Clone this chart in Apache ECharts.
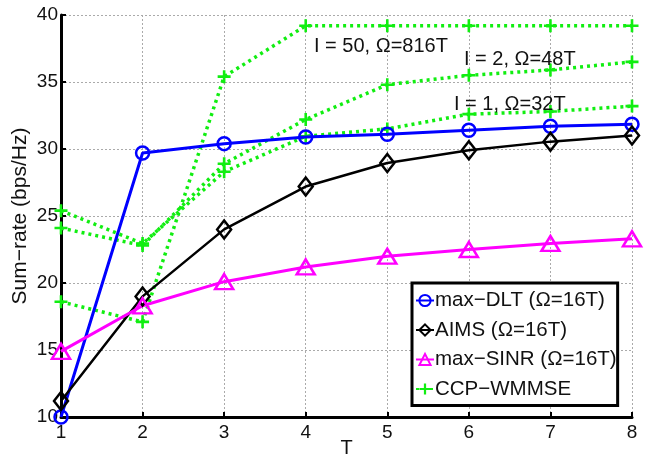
<!DOCTYPE html>
<html>
<head>
<meta charset="utf-8">
<script src="https://cdn.jsdelivr.net/npm/echarts@6/dist/echarts.min.js"></script>
<style>
  html, body { margin: 0; padding: 0; background: #fff; }
  #main { width: 651px; height: 457px; }
</style>
</head>
<body>
<div id="main"></div>
<script>
var T = [1, 2, 3, 4, 5, 6, 7, 8];
var yTicks = [10, 15, 20, 25, 30, 35, 40];

var maxDLT = [10.0, 29.7, 30.4, 30.9, 31.1, 31.4, 31.7, 31.85];
var aims = [11.2, 19.0, 24.0, 27.2, 28.95, 29.9, 30.55, 31.0];
var maxSINR = [14.9, 18.3, 20.1, 21.2, 22.0, 22.5, 22.95, 23.3];
var ccpI50 = [18.6, 17.1, 35.4, 39.2, 39.2, 39.2, 39.2, 39.2];
var ccpI2 = [24.1, 22.8, 28.9, 32.2, 34.8, 35.5, 35.9, 36.5];
var ccpI1 = [25.4, 22.95, 28.3, 30.95, 31.5, 32.6, 32.8, 33.2];

var legendNames = ['max−DLT (Ω=16T)', 'AIMS (Ω=16T)', 'max−SINR (Ω=16T)', 'CCP−WMMSE'];

var notes = [
  { text: 'I = 50, Ω=816T', x: 314, y: 47 },
  { text: 'I = 2, Ω=48T', x: 464, y: 60 },
  { text: 'I = 1, Ω=32T', x: 454, y: 105 }
];

var FONT = 'Liberation Sans, Arial, Helvetica, sans-serif';
var plus = 'path://M4,0 H6 V4 H10 V6 H6 V10 H4 V6 H0 V4 H4 Z';

function pairs(vals) {
  return vals.map(function (v, i) { return [T[i], v]; });
}

function green(vals) {
  return {
    name: legendNames[3],
    type: 'line',
    data: pairs(vals),
    symbol: plus,
    symbolSize: 13,
    itemStyle: { color: '#11ee11' },
    lineStyle: { color: '#11ee11', width: 3.5, type: [3, 4] },
    z: 1
  };
}

var chart = echarts.init(document.getElementById('main'));
chart.setOption({
  animation: false,
  backgroundColor: '#fff',
  textStyle: { fontFamily: FONT },
  grid: { left: 61, right: 19, top: 15, bottom: 40, containLabel: false, outerBoundsMode: 'none' },
  legend: {
    orient: 'vertical',
    left: 412,
    top: 283,
    itemWidth: 18,
    itemHeight: 14,
    itemGap: 8.5,
    padding: [7, 1, 6, 3],
    borderColor: '#000',
    borderWidth: 3,
    backgroundColor: '#fff',
    textStyle: { fontSize: 20.5, lineHeight: 20, color: '#111', fontFamily: FONT, padding: [0, 0, 0, -4] },
    data: legendNames
  },
  xAxis: {
    type: 'value',
    min: 1,
    max: 8,
    interval: 1,
    name: 'T',
    nameLocation: 'middle',
    nameGap: 21,
    nameMoveOverlap: false,
    nameTextStyle: { fontSize: 20, color: '#111' },
    axisLine: { lineStyle: { color: '#000', width: 3 } },
    axisTick: { inside: true, length: 5, lineStyle: { color: '#000', width: 2 } },
    axisLabel: { fontSize: 19, color: '#111', margin: 6 },
    splitLine: { show: true, lineStyle: { color: '#aaa', type: [2, 2], width: 1 } }
  },
  yAxis: {
    type: 'value',
    min: yTicks[0],
    max: yTicks[yTicks.length - 1],
    interval: 5,
    name: 'Sum−rate (bps/Hz)',
    nameLocation: 'middle',
    nameGap: 30,
    nameMoveOverlap: false,
    nameTextStyle: { fontSize: 21, color: '#111' },
    axisLine: { show: true, lineStyle: { color: '#000', width: 3 } },
    axisTick: { show: true, inside: true, length: 5, lineStyle: { color: '#000', width: 2 } },
    axisLabel: { fontSize: 19, color: '#111', margin: 3 },
    splitLine: { show: true, lineStyle: { color: '#aaa', type: [2, 2], width: 1 } }
  },
  graphic: notes.map(function (n) {
    return {
      type: 'text',
      left: n.x,
      top: n.y - 11,
      z: 100,
      style: { text: n.text, fontSize: 20, fill: '#111', fontFamily: FONT }
    };
  }),
  series: [
    green(ccpI50),
    green(ccpI2),
    green(ccpI1),
    {
      name: legendNames[0],
      type: 'line',
      data: pairs(maxDLT),
      symbol: 'circle',
      symbolSize: 13,
      itemStyle: { color: 'rgba(255,255,255,0)', borderColor: '#0000ff', borderWidth: 2.5 },
      lineStyle: { color: '#0000ff', width: 3 },
      z: 3
    },
    {
      name: legendNames[1],
      type: 'line',
      data: pairs(aims),
      symbol: 'diamond',
      symbolSize: [14, 18],
      itemStyle: { color: 'rgba(255,255,255,0)', borderColor: '#000', borderWidth: 2.5 },
      lineStyle: { color: '#000', width: 2.5 },
      z: 3
    },
    {
      name: legendNames[2],
      type: 'line',
      data: pairs(maxSINR),
      symbol: 'triangle',
      symbolSize: [18, 15],
      itemStyle: { color: 'rgba(255,255,255,0)', borderColor: '#ff00ff', borderWidth: 2.5 },
      lineStyle: { color: '#ff00ff', width: 3 },
      z: 3
    }
  ]
});
</script>
</body>
</html>
